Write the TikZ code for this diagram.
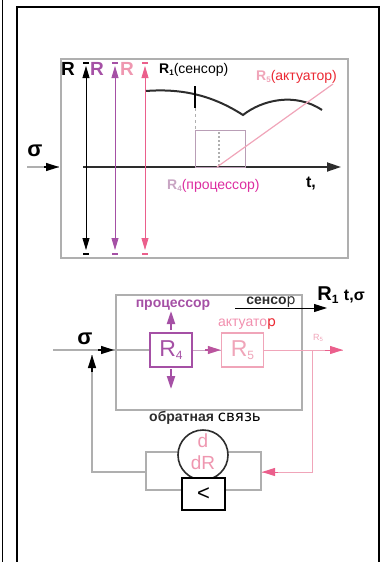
\documentclass[tikz,border=0pt]{standalone}
\usepackage{fontspec}
\setmainfont{Liberation Sans}
\newfontfamily\dvs{DejaVu Sans}
\usetikzlibrary{arrows.meta}
\definecolor{cpurple}{RGB}{165,80,165}
\definecolor{cpink}{RGB}{235,95,140}
\definecolor{clpink}{RGB}{240,165,185}
\definecolor{cred}{RGB}{235,40,50}
\definecolor{cmag}{RGB}{220,45,160}
\definecolor{cmauve}{RGB}{200,165,195}
\definecolor{cgray}{RGB}{175,175,175}
\definecolor{cdark}{RGB}{45,45,45}
\tikzset{
  fs/.style={font=\fontsize{#1}{#1}\selectfont},
  txt/.style={inner sep=0pt, fs=#1},
  tri/.style={-{Triangle[length=13pt,width=8pt]}},
  vax/.style={line width=0.8pt, {Triangle[length=12pt,width=7pt]}-{Triangle[length=12pt,width=7pt]}},
  frameline/.style={draw=cgray, line width=1.5pt},
  blk/.style={draw, line width=1.5pt, minimum width=42pt, minimum height=34pt, inner sep=0pt, fill=white},
}
\begin{document}
\begin{tikzpicture}[x=1pt,y=-1pt]
\useasboundingbox (0,0) rectangle (381,562);
% outer frame
\draw[line width=1pt] (2,0) -- (2,562);
\draw[line width=1.2pt] (17,562) -- (17,7) -- (379,7) -- (379,562);

% ===== top chart =====
\draw[frameline] (61,59) rectangle (348,258);
\node[txt=22, font=\bfseries\fontsize{22}{22}\selectfont, anchor=center] (sig1) at (35,151) {σ};
\coordinate (s1a) at (27,167);
\coordinate (s1b) at (59,167);
\draw[cgray, line width=1.5pt] (s1a) -- (s1b);
\draw[tri, black, line width=1.5pt] (44,167) -- (s1b);
\coordinate (t0) at (83,167);
\coordinate (t1) at (341,167);
\draw[cdark, line width=1.8pt, -{Triangle[length=14pt,width=9pt]}] (t0) -- (t1);
\node[txt=16, font=\bfseries\fontsize{16}{16}\selectfont, anchor=center] (tl) at (311,184) {t,};

% vertical double arrows
\foreach \x/\c in {86/black,115/cpurple,145/cpink}{
  \draw[vax, \c] (\x,66) -- (\x,250);
  \draw[\c, line width=1.2pt] (\x-3,63) -- (\x+3,63);
  \draw[\c, line width=1.2pt] (\x-3,254) -- (\x+3,254);
}
\node[txt=19, font=\bfseries\fontsize{19}{19}\selectfont, anchor=center] (ra) at (68,69) {R};
\node[txt=19, font=\bfseries\fontsize{19}{19}\selectfont, text=cpurple, anchor=center] (rb) at (97,69) {R};
\node[txt=19, font=\bfseries\fontsize{19}{19}\selectfont, text=clpink!80!cpink, anchor=center] (rc) at (127,69) {R};

\node[txt=14, anchor=west] (r1s) at (159,70) {\textbf{R}\raisebox{-2pt}{\fontsize{8}{8}\selectfont\textbf{1}}(сенсор)};
\node[txt=14, anchor=west, text=cred] (r5a) at (256,77) {\textcolor{clpink}{\textbf{R}\raisebox{-2pt}{\fontsize{8}{8}\selectfont\textbf{5}}}(актуатор)};
\node[txt=14, anchor=west, text=cmag] (r4p) at (167,186) {\textcolor{cmauve}{\textbf{R}\raisebox{-2pt}{\fontsize{8}{8}\selectfont\textbf{4}}}(процессор)};

% curve
\draw[cdark, line width=2pt] (146,91) .. controls (185,88) and (215,97) .. (243,115)
  .. controls (262,100) and (295,92) .. (322,110);
\coordinate (tk1) at (195,86);
\coordinate (tk2) at (195,108);
\coordinate (tk3) at (195,130);
\draw[black, line width=2pt] (tk1) -- (tk2);
\draw[cgray, line width=1pt, dash pattern=on 3pt off 3pt] (tk2) -- (tk3);
\draw[cmauve!80!gray, line width=1pt] (195,130) rectangle (245,167);
\draw[cgray, line width=1.2pt, dash pattern=on 2pt off 2pt] (219,132) -- (219,166);
\draw[clpink, line width=1.2pt] (217,167) -- (333,84);

% ===== bottom diagram =====
\draw[frameline] (116,295) rectangle (302,410);
\node[blk, draw=cpurple] (R4) at (171,350) {\textcolor{cpurple}{\fontsize{23}{23}\selectfont R\raisebox{-3pt}{\fontsize{12}{12}\selectfont 4}}};
\node[blk, draw=clpink] (R5) at (242.5,350) {\textcolor{clpink}{\fontsize{23}{23}\selectfont R\raisebox{-3pt}{\fontsize{12}{12}\selectfont 5}}};
\node[txt=14, font=\bfseries\fontsize{14}{14}\selectfont, text=cpurple, anchor=center] (proc) at (173,305) {процессор};
\node[txt=14, text=cpink!70!white, anchor=center] (akt) at (247,324) {актуато\textcolor{cred}{\dvs р}};
\node[txt=14, text=cdark, anchor=center] (sens) at (271,302) {\textbf{сенсо}{\dvs р}};
\node[txt=20, anchor=center] (r1t) at (341,295) {\textbf{R\raisebox{-3pt}{\fontsize{12}{12}\selectfont 1} \fontsize{16}{16}\selectfont t,σ}};

\coordinate (pu1) at (171,330);
\coordinate (pu2) at (171,311);
\coordinate (pd1) at (171,369);
\coordinate (pd2) at (171,389);
\draw[tri, cpurple, line width=2pt] (pu1) -- (pu2);
\draw[tri, cpurple, line width=2pt] (pd1) -- (pd2);
\draw[cmauve, line width=1pt] (R4.east) -- (R5.west);
\draw[tri, cpurple!70!cpink, line width=1.5pt] (205,350) -- (R5.west);

\coordinate (sa) at (235,308);
\coordinate (sb) at (327,308);
\draw[tri, black, line width=1pt] (sa) -- (sb);

% input
\coordinate (in0) at (53,350);
\coordinate (in1) at (114,350);
\draw[cgray, line width=1.5pt] (in0) -- (R4.west);
\draw[tri, black, line width=1.5pt] (98,350) -- (in1);
\node[txt=22, font=\bfseries\fontsize{22}{22}\selectfont, anchor=center] (sig2) at (85,339) {σ};

% output
\coordinate (out1) at (343,350);
\coordinate (fr) at (312,350);
\coordinate (fr2) at (312,472);
\coordinate (fr3) at (262,472);
\draw[clpink, line width=1pt] (R5.east) -- (out1);
\draw[tri, cpink, line width=1pt] (325,350) -- (out1);
\node[txt=9, text=clpink, anchor=center] (r5o) at (318,338) {R\raisebox{-1.5pt}{\fontsize{6}{6}\selectfont 5}};
\draw[clpink, line width=1pt] (fr) -- (fr2) -- (fr3);
\draw[tri, cpink, line width=1pt] (278,472) -- (fr3);

% feedback
\coordinate (fb0) at (92,472);
\coordinate (fb1) at (92,355);
\coordinate (fbL) at (146,472);
\draw[cgray, line width=1.5pt] (fbL) -- (fb0) -- (fb1);
\draw[tri, black, line width=1.5pt] (92,372) -- (fb1);
\draw[cgray, line width=1.5pt] (146,452) rectangle (261,490);
\node[circle, draw=cdark, line width=1.6pt, fill=white, minimum size=50pt, inner sep=0pt] (dR) at (203,455) {};
\node[txt=19, text=clpink!80!cpink, anchor=center] (dRn) at (203,441) {d};
\node[txt=19, text=clpink!80!cpink, anchor=center] (dRd) at (203,463) {dR};
\node[draw=black, line width=2.5pt, fill=white, minimum width=43pt, minimum height=32pt, inner sep=0pt, font=\fontsize{22}{22}\selectfont] (lt) at (203.5,494) {<};
\node[txt=14, anchor=west] (obr) at (149,418) {\textcolor{cdark}{\textbf{обратная}} {\dvs\fontsize{15}{15}\selectfont связь}};
\end{tikzpicture}
\end{document}
